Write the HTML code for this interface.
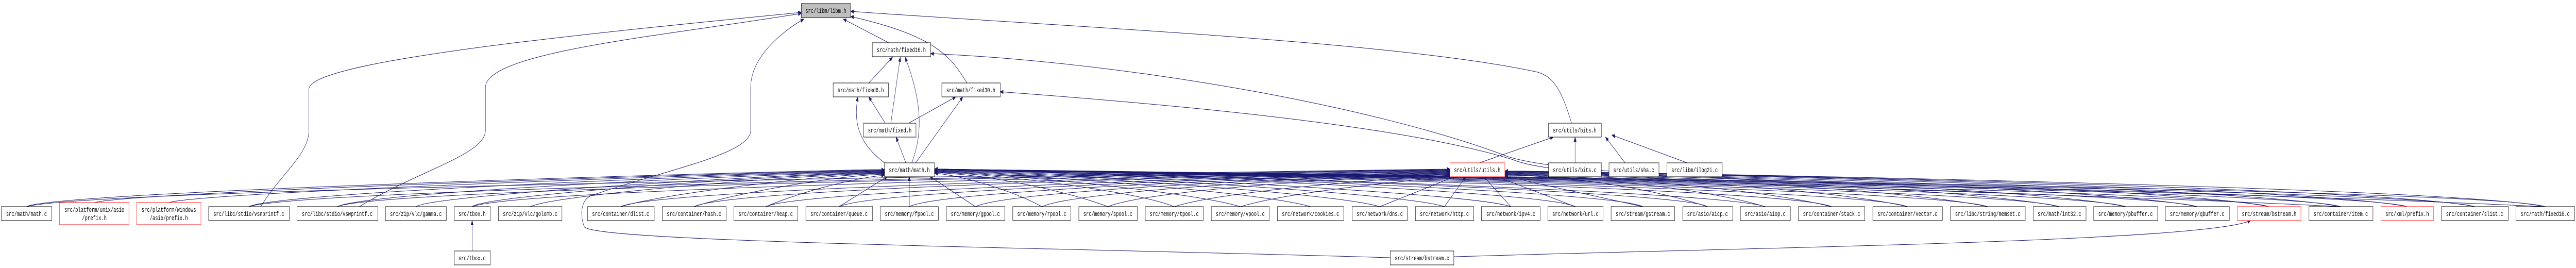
<!DOCTYPE html>
<html><head><meta charset="utf-8"><style>
html,body{margin:0;padding:0;background:#fff;width:100%;height:100%;overflow:hidden;}
svg{display:block;width:100vw;height:100vh;}
text{font-family:"Liberation Mono",monospace;font-size:13px;fill:#000;}
.b{fill:#fff;stroke:#000;stroke-width:1;}
.r{fill:#fff;stroke:#ff3b3b;stroke-width:1.2;}
.e{fill:none;stroke:#191970;stroke-width:1;marker-end:url(#a);}
</style></head><body>
<svg viewBox="0 0 7371 520" preserveAspectRatio="none" xmlns="http://www.w3.org/2000/svg">
<defs><marker id="a" markerWidth="10" markerHeight="8" refX="9" refY="4" orient="auto" markerUnits="userSpaceOnUse"><path d="M0,0 L10,4 L0,8 Z" fill="#191970"/></marker></defs>

<path class="e" d="M746,401 C800,340 884,300 884,253 L884,173 C884,120 1600,70 2293,24"/>
<path class="e" d="M1028,401 C1200,330 1389,300 1389,253 L1389,170 C1389,100 1900,70 2293,26"/>
<path class="e" d="M3978,500 C3000,480 1700,470 1672,440 C1660,420 1660,390 1690,380 C1900,330 2148,300 2148,253 L2148,170 C2148,110 2240,60 2300,37"/>
<path class="e" d="M2543,83 L2413,37"/>
<path class="e" d="M4497,239 C4470,180 4450,150 4400,140 C4000,80 3000,50 2434,22"/>
<path class="e" d="M2767,161 C2720,110 2680,70 2434,32"/>
<path class="e" d="M2486,161 L2554,111"/>
<path class="e" d="M2549,239 L2576,111"/>
<path class="e" d="M2609,316 C2640,260 2640,200 2590,111"/>
<path class="e" d="M7283,401 C6000,360 4500,360 4300,300 C3900,200 3200,120 2663,104"/>
<path class="e" d="M6700,401 C5800,370 4500,360 4330,310 C4000,240 3300,200 2862,178"/>
<path class="e" d="M2533,239 L2486,188"/>
<path class="e" d="M2531,316 C2460,280 2440,240 2455,188"/>
<path class="e" d="M2600,239 L2735,188"/>
<path class="e" d="M2620,316 L2755,188"/>
<path class="e" d="M2592,316 L2564,266"/>
<path class="e" d="M4233,316 L4445,266"/>
<path class="e" d="M4507,316 L4507,266"/>
<path class="e" d="M4650,316 L4594,266"/>
<path class="e" d="M4828,316 L4612,262"/>
<path class="e" d="M1351,487 L1351,428"/>
<path class="e" d="M4069,500 C5000,480 6300,470 6440,428"/>

<path class="e" d="M76,401 C150,370 2381,329 2531,329"/>
<path class="e" d="M270,393 C400,370 2381,330 2531,330"/>
<path class="e" d="M483,393 C600,370 2381,331 2531,331"/>
<path class="e" d="M712,401 C800,370 2381,332 2531,332"/>
<path class="e" d="M965,401 C1050,370 2381,333 2531,333"/>
<path class="e" d="M1190,401 C1250,375 2381,334 2531,334"/>
<path class="e" d="M1351,401 C1400,375 2381,335 2531,335"/>
<path class="e" d="M1517,401 C1600,375 2381,336 2531,336"/>
<path class="e" d="M1776,401 C1900,375 2381,337 2531,337"/>
<path class="e" d="M1986,401 C2100,375 2400,340 2531,338"/>
<path class="e" d="M2191,401 C2300,370 2450,345 2531,340"/>
<path class="e" d="M2401,401 L2540,342"/>
<path class="e" d="M2602,401 L2602,342"/>
<path class="e" d="M2791,401 L2660,342"/>
<path class="e" d="M2981,401 C2900,370 2750,340 2674,336"/>
<path class="e" d="M3170,401 C3050,370 2824,338 2674,335"/>
<path class="e" d="M3360,401 C3250,370 2824,336 2674,334"/>
<path class="e" d="M3549,401 C3400,370 2824,335 2674,333"/>
<path class="e" d="M3750,401 C3600,370 2824,334 2674,332"/>
<path class="e" d="M3948,401 C3800,370 2824,333 2674,331"/>
<path class="e" d="M4133,401 C4000,370 2824,332 2674,330"/>
<path class="e" d="M4323,401 C4200,370 2824,331 2674,329"/>
<path class="e" d="M4508,401 C4400,365 2824,330 2674,329"/>
<path class="e" d="M4701,401 C4600,365 2824,330 2674,328"/>
<path class="e" d="M4886,401 C4800,365 2824,330 2674,328"/>
<path class="e" d="M5051,401 C4900,365 2824,330 2674,328"/>
<path class="e" d="M5241,401 C5100,360 2824,330 2674,328"/>
<path class="e" d="M5458,401 C5300,360 2824,330 2674,328"/>
<path class="e" d="M5688,401 C5500,360 2824,330 2674,328"/>
<path class="e" d="M5893,401 C5700,360 2824,330 2674,328"/>
<path class="e" d="M6082,401 C5900,360 2824,330 2674,328"/>
<path class="e" d="M6287,401 C6100,360 2824,330 2674,328"/>
<path class="e" d="M6493,401 C6300,360 2824,330 2674,328"/>
<path class="e" d="M6698,401 C6500,360 2824,330 2674,328"/>
<path class="e" d="M6888,401 C6700,360 2824,330 2674,328"/>
<path class="e" d="M7081,401 C6900,360 2824,330 2674,328"/>
<path class="e" d="M7283,401 C7100,360 2824,330 2674,328"/>

<path class="e" d="M76,401 C300,360 3999,330 4149,328"/>
<path class="e" d="M712,401 C900,360 3999,330 4149,329"/>
<path class="e" d="M965,401 C1100,360 3999,331 4149,330"/>
<path class="e" d="M1351,401 C1500,360 3999,332 4149,331"/>
<path class="e" d="M1776,401 C1900,360 3999,333 4149,332"/>
<path class="e" d="M1986,401 C2100,360 3999,334 4149,333"/>
<path class="e" d="M2191,401 C2300,365 3999,335 4149,334"/>
<path class="e" d="M2401,401 C2500,365 3999,336 4149,335"/>
<path class="e" d="M2602,401 C2700,365 3999,337 4149,336"/>
<path class="e" d="M2791,401 C2900,365 3999,338 4149,337"/>
<path class="e" d="M2981,401 C3100,365 3999,339 4149,338"/>
<path class="e" d="M3170,401 C3300,365 3999,340 4149,339"/>
<path class="e" d="M3360,401 C3500,370 4000,345 4150,340"/>
<path class="e" d="M3549,401 C3700,370 4050,350 4155,342"/>
<path class="e" d="M3948,401 L4165,342"/>
<path class="e" d="M4133,401 L4195,342"/>
<path class="e" d="M4323,401 L4245,342"/>
<path class="e" d="M4508,401 L4280,342"/>
<path class="e" d="M4701,401 L4306,342"/>
<path class="e" d="M4886,401 C4700,360 4456,340 4306,340"/>
<path class="e" d="M5051,401 C4850,360 4456,340 4306,339"/>
<path class="e" d="M5241,401 C5000,360 4456,339 4306,338"/>
<path class="e" d="M5458,401 C5200,360 4456,338 4306,337"/>
<path class="e" d="M5688,401 C5400,360 4456,337 4306,336"/>
<path class="e" d="M5893,401 C5600,360 4456,336 4306,335"/>
<path class="e" d="M6082,401 C5800,360 4456,335 4306,334"/>
<path class="e" d="M6287,401 C6000,360 4456,334 4306,333"/>
<path class="e" d="M6493,401 C6200,360 4456,333 4306,333"/>
<path class="e" d="M6698,401 C6400,360 4456,332 4306,332"/>
<path class="e" d="M6888,401 C6600,360 4456,332 4306,332"/>
<path class="e" d="M7081,401 C6800,360 4456,332 4306,332"/>
<path class="e" d="M7283,401 C7000,360 4456,332 4306,332"/>

<rect x="2293" y="7" width="141" height="27" fill="#bfbfbf" stroke="#000"/><text x="2363" y="25" text-anchor="middle">src/libm/libm.h</text>
<rect class="b" x="2496" y="83" width="167" height="27"/><text x="2579" y="101" text-anchor="middle">src/math/fixed16.h</text>
<rect class="b" x="2384" y="161" width="158" height="27"/><text x="2463" y="179" text-anchor="middle">src/math/fixed6.h</text>
<rect class="b" x="2695" y="161" width="167" height="27"/><text x="2778" y="179" text-anchor="middle">src/math/fixed30.h</text>
<rect class="b" x="2471" y="239" width="150" height="27"/><text x="2546" y="257" text-anchor="middle">src/math/fixed.h</text>
<rect class="b" x="2531" y="316" width="143" height="27"/><text x="2602" y="334" text-anchor="middle">src/math/math.h</text>
<rect class="b" x="4431" y="239" width="151" height="27"/><text x="4506" y="257" text-anchor="middle">src/utils/bits.h</text>
<rect class="r" x="4149" y="316" width="157" height="27"/><text x="4227" y="334" text-anchor="middle">src/utils/utils.h</text>
<rect class="b" x="4431" y="316" width="151" height="27"/><text x="4506" y="334" text-anchor="middle">src/utils/bits.c</text>
<rect class="b" x="4604" y="316" width="143" height="27"/><text x="4675" y="334" text-anchor="middle">src/utils/sha.c</text>
<rect class="b" x="4770" y="316" width="158" height="27"/><text x="4849" y="334" text-anchor="middle">src/libm/ilog2i.c</text>
<rect class="b" x="1300" y="487" width="103" height="27"/><text x="1351" y="505" text-anchor="middle">src/tbox.c</text>
<rect class="b" x="3978" y="487" width="182" height="27"/><text x="4069" y="505" text-anchor="middle">src/stream/bstream.c</text>

<rect class="b" x="4" y="401" width="144" height="27"/><text x="76" y="419" text-anchor="middle">src/math/math.c</text>
<rect class="r" x="170" y="393" width="199" height="43"/><text x="270" y="411" text-anchor="middle">src/platform/unix/asio</text><text x="270" y="427" text-anchor="middle">/prefix.h</text>
<rect class="r" x="391" y="393" width="184" height="43"/><text x="483" y="411" text-anchor="middle">src/platform/windows</text><text x="483" y="427" text-anchor="middle">/asio/prefix.h</text>
<rect class="b" x="597" y="401" width="231" height="27"/><text x="712" y="419" text-anchor="middle">src/libc/stdio/vsnprintf.c</text>
<rect class="b" x="850" y="401" width="231" height="27"/><text x="965" y="419" text-anchor="middle">src/libc/stdio/vswprintf.c</text>
<rect class="b" x="1103" y="401" width="174" height="27"/><text x="1190" y="419" text-anchor="middle">src/zip/vlc/gamma.c</text>
<rect class="b" x="1300" y="401" width="103" height="27"/><text x="1351" y="419" text-anchor="middle">src/tbox.h</text>
<rect class="b" x="1426" y="401" width="182" height="27"/><text x="1517" y="419" text-anchor="middle">src/zip/vlc/golomb.c</text>
<rect class="b" x="1681" y="401" width="191" height="27"/><text x="1776" y="419" text-anchor="middle">src/container/dlist.c</text>
<rect class="b" x="1895" y="401" width="183" height="27"/><text x="1986" y="419" text-anchor="middle">src/container/hash.c</text>
<rect class="b" x="2100" y="401" width="183" height="27"/><text x="2191" y="419" text-anchor="middle">src/container/heap.c</text>
<rect class="b" x="2306" y="401" width="191" height="27"/><text x="2401" y="419" text-anchor="middle">src/container/queue.c</text>
<rect class="b" x="2519" y="401" width="166" height="27"/><text x="2602" y="419" text-anchor="middle">src/memory/fpool.c</text>
<rect class="b" x="2708" y="401" width="167" height="27"/><text x="2791" y="419" text-anchor="middle">src/memory/gpool.c</text>
<rect class="b" x="2898" y="401" width="166" height="27"/><text x="2981" y="419" text-anchor="middle">src/memory/rpool.c</text>
<rect class="b" x="3087" y="401" width="167" height="27"/><text x="3170" y="419" text-anchor="middle">src/memory/spool.c</text>
<rect class="b" x="3277" y="401" width="166" height="27"/><text x="3360" y="419" text-anchor="middle">src/memory/tpool.c</text>
<rect class="b" x="3466" y="401" width="166" height="27"/><text x="3549" y="419" text-anchor="middle">src/memory/vpool.c</text>
<rect class="b" x="3655" y="401" width="190" height="27"/><text x="3750" y="419" text-anchor="middle">src/network/cookies.c</text>
<rect class="b" x="3869" y="401" width="158" height="27"/><text x="3948" y="419" text-anchor="middle">src/network/dns.c</text>
<rect class="b" x="4050" y="401" width="167" height="27"/><text x="4133" y="419" text-anchor="middle">src/network/http.c</text>
<rect class="b" x="4239" y="401" width="168" height="27"/><text x="4323" y="419" text-anchor="middle">src/network/ipv4.c</text>
<rect class="b" x="4429" y="401" width="158" height="27"/><text x="4508" y="419" text-anchor="middle">src/network/url.c</text>
<rect class="b" x="4610" y="401" width="182" height="27"/><text x="4701" y="419" text-anchor="middle">src/stream/gstream.c</text>
<rect class="b" x="4815" y="401" width="143" height="27"/><text x="4886" y="419" text-anchor="middle">src/asio/aicp.c</text>
<rect class="b" x="4980" y="401" width="143" height="27"/><text x="5051" y="419" text-anchor="middle">src/asio/aiop.c</text>
<rect class="b" x="5146" y="401" width="190" height="27"/><text x="5241" y="419" text-anchor="middle">src/container/stack.c</text>
<rect class="b" x="5359" y="401" width="199" height="27"/><text x="5458" y="419" text-anchor="middle">src/container/vector.c</text>
<rect class="b" x="5581" y="401" width="214" height="27"/><text x="5688" y="419" text-anchor="middle">src/libc/string/memset.c</text>
<rect class="b" x="5818" y="401" width="151" height="27"/><text x="5893" y="419" text-anchor="middle">src/math/int32.c</text>
<rect class="b" x="5991" y="401" width="183" height="27"/><text x="6082" y="419" text-anchor="middle">src/memory/pbuffer.c</text>
<rect class="b" x="6196" y="401" width="183" height="27"/><text x="6287" y="419" text-anchor="middle">src/memory/qbuffer.c</text>
<rect class="r" x="6402" y="401" width="182" height="27"/><text x="6493" y="419" text-anchor="middle">src/stream/bstream.h</text>
<rect class="b" x="6607" y="401" width="183" height="27"/><text x="6698" y="419" text-anchor="middle">src/container/item.c</text>
<rect class="r" x="6813" y="401" width="150" height="27"/><text x="6888" y="419" text-anchor="middle">src/xml/prefix.h</text>
<rect class="b" x="6986" y="401" width="191" height="27"/><text x="7081" y="419" text-anchor="middle">src/container/slist.c</text>
<rect class="b" x="7199" y="401" width="168" height="27"/><text x="7283" y="419" text-anchor="middle">src/math/fixed16.c</text>
</svg>
</body></html>
